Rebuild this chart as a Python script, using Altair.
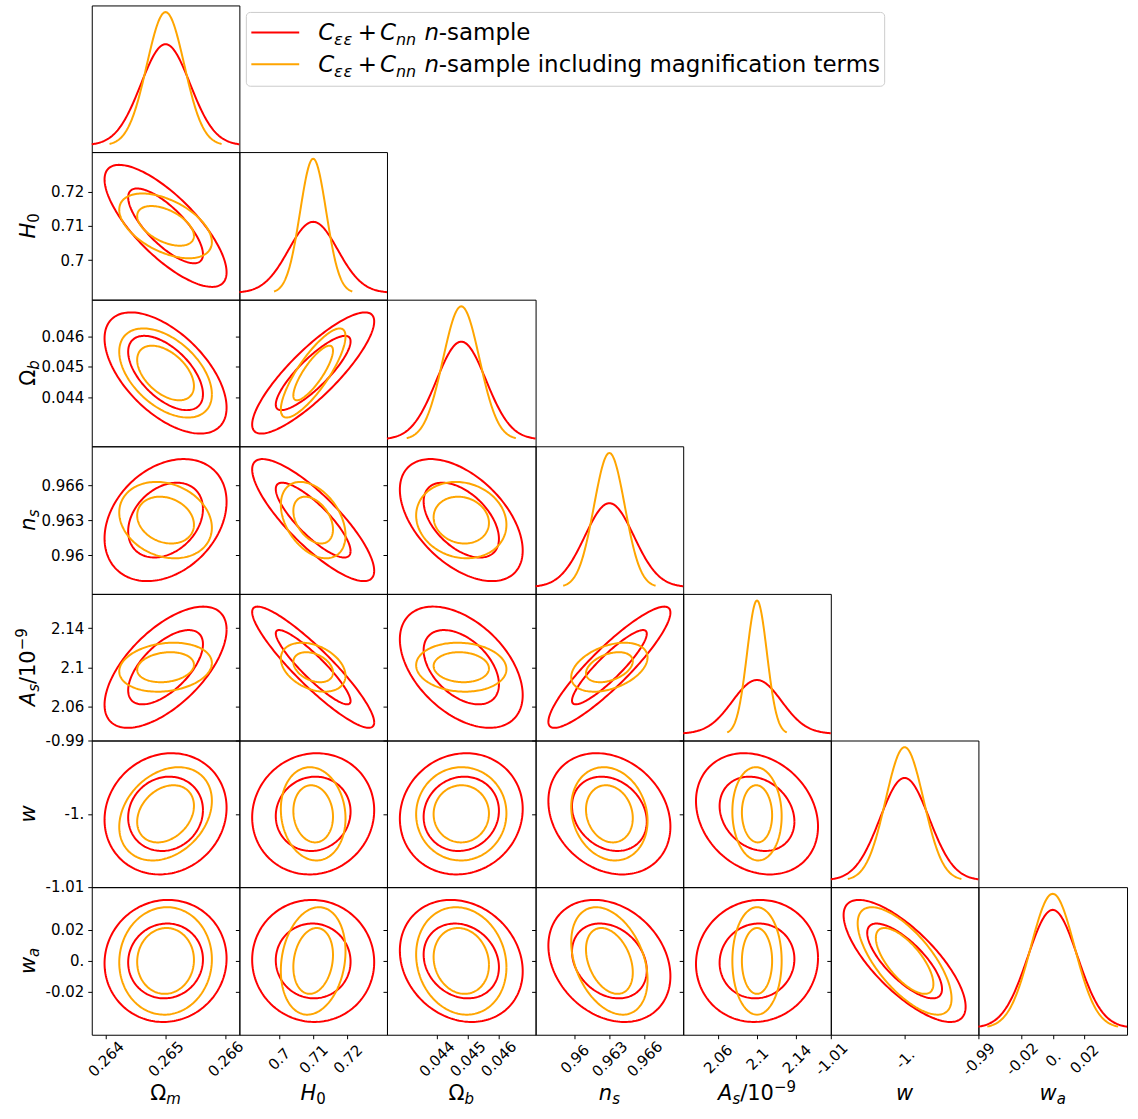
import numpy as np
import pandas as pd
import altair as alt

# ---------------- data ----------------
param_keys = ["Om", "H0", "Ob", "ns", "As", "w", "wa"]
means = [0.265, 0.71, 0.0448, 0.963, 2.1, -1.0, 0.0]
sigma_red = [0.000411, 0.00715, 0.00080, 0.00211, 0.0250, 0.00334, 0.0159]
sigma_orange = [0.000312, 0.00379, 0.000588, 0.00132, 0.0101, 0.00257, 0.0140]

# lower-triangle correlations: rho[i][j], i = row parameter (y), j = column parameter (x)
rho_red = [
    [],
    [-0.76],
    [-0.57, 0.85],
    [0.30, -0.83, -0.50],
    [0.62, -0.91, -0.46, 0.90],
    [0.10, 0.06, 0.08, -0.21, -0.21],
    [0.04, -0.02, -0.17, -0.25, 0.05, -0.75],
]
rho_orange = [
    [],
    [-0.50],
    [-0.48, 0.82],
    [-0.20, -0.40, -0.12],
    [0.17, -0.35, -0.08, 0.40],
    [0.28, -0.10, 0.01, -0.15, -0.05],
    [0.03, 0.18, -0.12, -0.35, 0.00, -0.70],
]

tick_values = [
    [0.264, 0.265, 0.266],
    [0.70, 0.71, 0.72],
    [0.044, 0.045, 0.046],
    [0.960, 0.963, 0.966],
    [2.06, 2.10, 2.14],
    [-1.01, -1.00, -0.99],
    [-0.02, 0.0, 0.02],
]
tick_labels = [
    ["0.264", "0.265", "0.266"],
    ["0.7", "0.71", "0.72"],
    ["0.044", "0.045", "0.046"],
    ["0.96", "0.963", "0.966"],
    ["2.06", "2.1", "2.14"],
    ["-1.01", "-1.", "-0.99"],
    ["-0.02", "0.", "0.02"],
]

# axis titles as (text, italic, script) segments; script: 0 normal, 1 subscript, 2 superscript
title_segments = [
    [("Ω", False, 0), ("m", True, 1)],
    [("H", True, 0), ("0", False, 1)],
    [("Ω", False, 0), ("b", True, 1)],
    [("n", True, 0), ("s", True, 1)],
    [("A", True, 0), ("s", True, 1), ("/10", False, 0), ("−9", False, 2)],
    [("w", True, 0)],
    [("w", True, 0), ("a", True, 1)],
]

legend_labels = ["n-sample", "n-sample including magnification terms"]
series_colors = ["#ff0000", "#ffa500"]
contour_levels = [1.52, 2.48]  # 68% and 95% 2D contours

# ---------------- layout / style ----------------
N = 7
COL_W = [148, 148, 149, 148, 148, 148, 149]
ROW_H = [147, 148, 147, 148, 147, 147, 148]
FONT = "DejaVu Sans"
T_SIZE, S_SIZE = 21, 15
TICK_FS = 15

one = pd.DataFrame({"a": [0]})

adv = {"Ω": 0.77, "m": 0.974, "H": 0.752, "0": 0.636, "b": 0.635, "n": 0.634, "s": 0.521,
       "A": 0.684, "/": 0.337, "1": 0.636, "−": 0.838, "9": 0.636, "w": 0.818, "a": 0.613}


def seg_width(text, size):
    return sum(adv.get(ch, 0.6) for ch in text) * size


def txt(text, x, y, size, italic=False, angle=0, color="black"):
    kw = dict(text=text, font=FONT, fontSize=size, align="left", baseline="alphabetic",
              color=color, fontStyle="italic" if italic else "normal")
    if angle:
        kw["angle"] = angle
    return alt.Chart(one).mark_text(**kw).encode(x=alt.value(x), y=alt.value(y))


def bottom_title(p, w, h):
    segs = title_segments[p]
    sizes = [T_SIZE if s == 0 else S_SIZE for _, _, s in segs]
    total = sum(seg_width(t, sz) for (t, _, _), sz in zip(segs, sizes))
    x = w / 2 - total / 2
    base = h + 65
    out = []
    for (t, it, s), sz in zip(segs, sizes):
        shift = 4 if s == 1 else (-8 if s == 2 else 0)
        out.append(txt(t, x, base + shift, sz, it))
        x += seg_width(t, sz)
    return out


def left_title(p, w, h):
    segs = title_segments[p]
    sizes = [T_SIZE if s == 0 else S_SIZE for _, _, s in segs]
    total = sum(seg_width(t, sz) for (t, _, _), sz in zip(segs, sizes))
    y = h / 2 + total / 2
    base = -57
    out = []
    for (t, it, s), sz in zip(segs, sizes):
        shift = 4 if s == 1 else (-8 if s == 2 else 0)
        out.append(txt(t, base + shift, y, sz, it, angle=270))
        y -= seg_width(t, sz)
    return out


def label_expr(p):
    expr = "''"
    for v, l in reversed(list(zip(tick_values[p], tick_labels[p]))):
        expr = f"abs(datum.value - ({v})) < 1e-9 ? '{l}' : {expr}"
    return expr


def scale_for(p):
    lo = means[p] - 3 * sigma_red[p]
    hi = means[p] + 3 * sigma_red[p]
    return alt.Scale(domain=[lo, hi], nice=False, zero=False)


def x_axis(p, show):
    if not show:
        return None
    return alt.Axis(values=tick_values[p], labelExpr=label_expr(p), labelAngle=315,
                    labelAlign="center", labelBaseline="middle", labelPadding=20,
                    tickSize=4, tickColor="black", title=None, domain=False, grid=False,
                    labelOverlap=False, labelFlush=False, labelFont=FONT,
                    labelFontSize=TICK_FS, labelColor="black")


def y_axis(p, labelled):
    if labelled:
        return alt.Axis(values=tick_values[p], labelExpr=label_expr(p), tickSize=4,
                        tickColor="black", labelPadding=4, title=None, domain=False,
                        grid=False, labelOverlap=False, labelFlush=False, labelFont=FONT,
                        labelFontSize=TICK_FS, labelColor="black")
    return alt.Axis(values=tick_values[p], labels=False, tickSize=4, tickColor="black",
                    title=None, domain=False, grid=False)


def ellipse_frame(i, j, sig, rho):
    t = np.linspace(0, 2 * np.pi, 181)
    frames = []
    for lev, k in enumerate(contour_levels):
        x = means[j] + k * sig[j] * np.cos(t)
        y = means[i] + k * sig[i] * (rho * np.cos(t) + np.sqrt(1 - rho ** 2) * np.sin(t))
        frames.append(pd.DataFrame({"x": x, "y": y, "idx": np.arange(len(t)), "level": lev}))
    return pd.concat(frames, ignore_index=True)


def gauss_frame(p, sig):
    x = np.linspace(means[p] - 3 * sig, means[p] + 3 * sig, 161)
    y = np.exp(-0.5 * ((x - means[p]) / sig) ** 2) / (sig * np.sqrt(2 * np.pi))
    return pd.DataFrame({"x": x, "y": y, "idx": np.arange(len(x))})


def empty_cell(w, h):
    return alt.Chart(one).mark_point(opacity=0).encode(
        x=alt.value(w / 2), y=alt.value(h / 2)
    ).properties(width=w, height=h, view=alt.ViewBackground(strokeOpacity=0))


def legend_cell(w, h):
    layers = [
        alt.Chart(one).mark_rect(fill="white", stroke="#cccccc", strokeWidth=1, cornerRadius=4)
        .encode(x=alt.value(7), x2=alt.value(647), y=alt.value(7), y2=alt.value(81))
    ]
    for row, (lab, col) in enumerate(zip(legend_labels, series_colors)):
        yl = 27 + 32 * row
        yb = 35 + 32 * row
        layers.append(alt.Chart(one).mark_rule(color=col, strokeWidth=2).encode(
            x=alt.value(12), x2=alt.value(60), y=alt.value(yl)))
        layers += [
            txt("C", 79, yb, 23, True),
            txt("ε", 95, yb + 5, 16.5, True),
            txt("ε", 104.5, yb + 5, 16.5, True),
            txt("+", 118.6, yb, 23, False),
            txt("C", 141, yb, 23, True),
            txt("nn", 157, yb + 5, 16, True),
            txt(lab[0], 185.5, yb, 23, True),
            txt(lab[1:], 200, yb, 23, False),
        ]
    return alt.layer(*layers).properties(width=w, height=h,
                                         view=alt.ViewBackground(strokeOpacity=0))


def diag_cell(p, w, h):
    xs = scale_for(p)
    m = 1.0 / (sigma_orange[p] * np.sqrt(2 * np.pi))
    ys = alt.Scale(domain=[-0.05 * m, 1.05 * m], nice=False, zero=False)
    layers = []
    for sig, col in zip([sigma_red[p], sigma_orange[p]], series_colors):
        layers.append(alt.Chart(gauss_frame(p, sig)).mark_line(color=col, strokeWidth=2).encode(
            x=alt.X("x:Q", scale=xs, axis=x_axis(p, p == N - 1)),
            y=alt.Y("y:Q", scale=ys, axis=None),
            order="idx:Q"))
    if p == N - 1:
        layers += bottom_title(p, w, h)
    return alt.layer(*layers).properties(width=w, height=h)


def off_cell(i, j, w, h):
    xs, ys = scale_for(j), scale_for(i)
    layers = []
    for sig, rho, col in zip([sigma_red, sigma_orange], [rho_red, rho_orange], series_colors):
        layers.append(alt.Chart(ellipse_frame(i, j, sig, rho[i][j])).mark_line(
            color=col, strokeWidth=2).encode(
            x=alt.X("x:Q", scale=xs, axis=x_axis(j, i == N - 1)),
            y=alt.Y("y:Q", scale=ys, axis=y_axis(i, j == 0)),
            order="idx:Q", detail="level:N"))
    if j == 0:
        layers += left_title(i, w, h)
    if i == N - 1:
        layers += bottom_title(j, w, h)
    return alt.layer(*layers).properties(width=w, height=h)


cells = []
for r in range(N):
    for c in range(N):
        w, h = COL_W[c], ROW_H[r]
        if c < r:
            cells.append(off_cell(r, c, w, h))
        elif c == r:
            cells.append(diag_cell(r, w, h))
        elif r == 0 and c == 1:
            cells.append(legend_cell(w, h))
        else:
            cells.append(empty_cell(w, h))

chart = alt.concat(*cells, columns=N, spacing=0, bounds="flush", align="each").properties(
    padding={"left": 14, "top": 3, "right": 6, "bottom": 4}
).configure_view(stroke="black", strokeWidth=1)

chart.save("out.html", embed_options={"renderer": "svg", "actions": False})
